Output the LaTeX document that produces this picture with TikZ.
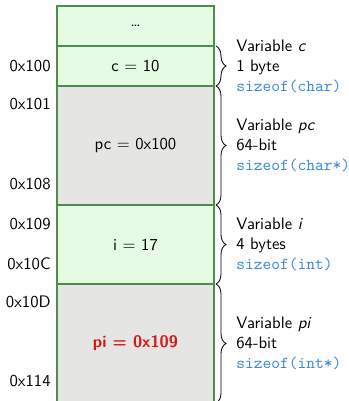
\documentclass[tikz,border=0pt]{standalone}
\usepackage{xcolor}
\usepackage{tikz}
\usetikzlibrary{positioning}
\usetikzlibrary{decorations.pathreplacing}
\definecolor{cellgreen}{RGB}{230,251,227}
\definecolor{cellgrey}{RGB}{229,230,228}
\definecolor{celledge}{RGB}{78,140,78}
\definecolor{sizeblue}{RGB}{58,140,218}
\definecolor{ptrred}{RGB}{212,26,26}
\tikzset{mem-cell/.style={draw=celledge, line width=0.8pt, inner sep=0, outer sep=0, minimum width=94.2pt, fill=cellgreen, font=\sffamily}}
\tikzset{mem-ptr/.style={mem-cell, fill=cellgrey}}
\tikzset{mem-addr/.style={inner sep=0, font=\sffamily}}
\tikzset{mem-brace/.style={decorate, decoration={brace, amplitude=6pt}, line width=0.5pt}}
\tikzset{mem-desc/.style={inner sep=0, align=left, font=\sffamily}}
\newcommand{\sizetxt}[1]{\textcolor{sizeblue}{\ttfamily #1}}

\begin{document}
\begin{tikzpicture}
            \clip (0,0) rectangle (208.8pt,-240.6pt);

            % memory cells
            \node[mem-cell, minimum height=24pt, anchor=north west] (celldots) at (34.2pt,-3.6pt) {\dots};
            \node[mem-cell, minimum height=24pt, below=0pt of celldots] (cellc) {c = 10};
            \node[mem-ptr, minimum height=71.4pt, below=0pt of cellc] (cellpc) {pc = 0x100};
            \node[mem-cell, minimum height=47.4pt, below=0pt of cellpc] (celli) {i = 17};
            \node[mem-ptr, minimum height=71.4pt, below=0pt of celli] (cellpi) {\textcolor{ptrred}{\bfseries pi = 0x109}};

            % addresses
            \node[mem-addr, left=3.6pt of cellc.west] (addr100) {0x100};
            \node[mem-addr, left=3.6pt of cellpc.north west, yshift=-10.8pt] (addr101) {0x101};
            \node[mem-addr, left=3.6pt of cellpc.south west, yshift=12.6pt] (addr108) {0x108};
            \node[mem-addr, left=3.6pt of celli.north west, yshift=-11.4pt] (addr109) {0x109};
            \node[mem-addr, left=3.6pt of celli.south west, yshift=12pt] (addr10C) {0x10C};
            \node[mem-addr, left=3.6pt of cellpi.north west, yshift=-10.8pt] (addr10D) {0x10D};
            \node[mem-addr, left=3.6pt of cellpi.north west, yshift=-58.2pt] (addr114) {0x114};

            % braces
            \draw[mem-brace] ([xshift=1.2pt]cellc.north east) -- ([xshift=1.2pt]cellc.south east);
            \draw[mem-brace] ([xshift=1.2pt]cellpc.north east) -- ([xshift=1.2pt]cellpc.south east);
            \draw[mem-brace] ([xshift=1.2pt]celli.north east) -- ([xshift=1.2pt]celli.south east);
            \draw[mem-brace] ([xshift=1.2pt]cellpi.north east) -- ([xshift=1.2pt]cellpi.south east);

            % descriptions
            \node[mem-desc, right=13.2pt of cellc.east] (descc) {Variable \textit{c}\\1 byte\\\sizetxt{sizeof(char)}};
            \node[mem-desc, right=13.2pt of cellpc.east] (descpc) {Variable \textit{pc}\\64-bit\\\sizetxt{sizeof(char*)}};
            \node[mem-desc, right=13.2pt of celli.east] (desci) {Variable \textit{i}\\4 bytes\\\sizetxt{sizeof(int)}};
            \node[mem-desc, right=13.2pt of cellpi.east] (descpi) {Variable \textit{pi}\\64-bit\\\sizetxt{sizeof(int*)}};
\end{tikzpicture}
\end{document}
